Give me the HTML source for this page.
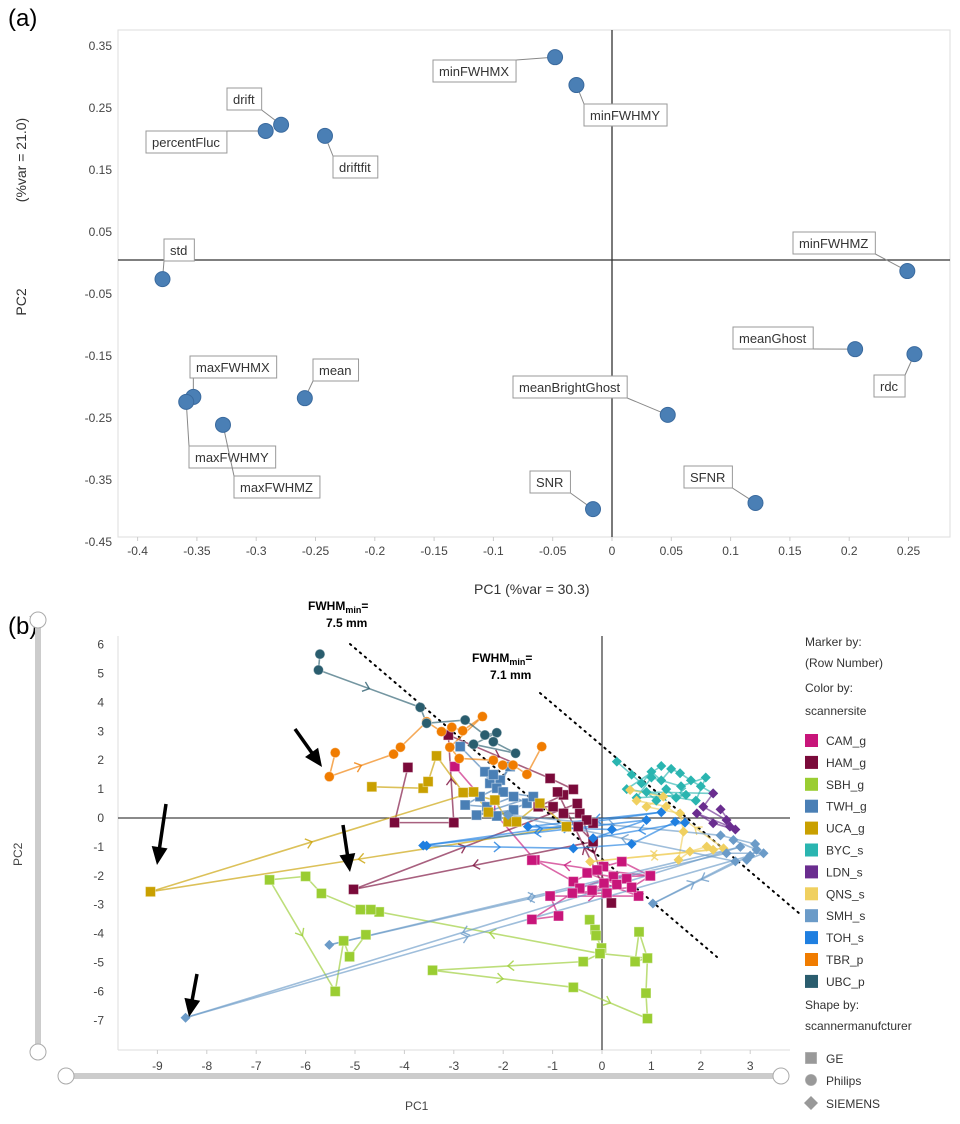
<!DOCTYPE html>
<html><head><meta charset="utf-8"><style>
body{margin:0;background:#fff;}
svg{display:block;font-family:"Liberation Sans",sans-serif;}
</style></head><body>
<svg id="fig" width="960" height="1124" viewBox="0 0 960 1124" xmlns="http://www.w3.org/2000/svg">
<text x="8" y="26" font-size="24">(a)</text>
<text x="8" y="634" font-size="24">(b)</text>
<g id="pa"></g>
<g id="pb"></g>
</svg>
<script>
const NS="http://www.w3.org/2000/svg";
function mk(tag,attrs,parent,txt){const e=document.createElementNS(NS,tag);for(const k in attrs)e.setAttribute(k,attrs[k]);if(txt!==undefined)e.textContent=txt;parent.appendChild(e);return e;}

// ---------- Panel (a) data ----------
const aLabels=["minFWHMX","minFWHMY","drift","percentFluc","driftfit","std","minFWHMZ","meanGhost","rdc","maxFWHMX","maxFWHMY","maxFWHMZ","mean","meanBrightGhost","SNR","SFNR"];
const aPC1=[-0.048,-0.030,-0.279,-0.292,-0.242,-0.379,0.249,0.205,0.255,-0.353,-0.359,-0.328,-0.259,0.047,-0.016,0.121];
const aPC2=[0.332,0.287,0.223,0.213,0.205,-0.026,-0.013,-0.139,-0.147,-0.216,-0.224,-0.261,-0.218,-0.245,-0.397,-0.387];
const aXTicks=[-0.4,-0.35,-0.3,-0.25,-0.2,-0.15,-0.1,-0.05,0,0.05,0.1,0.15,0.2,0.25];
const aYTicks=[0.35,0.25,0.15,0.05,-0.05,-0.15,-0.25,-0.35,-0.45];
// label boxes (layout, not data)
const aBoxes=[[433,60],[584,104],[227,88],[146,131],[333,156],[164,239],[793,232],[733,327],[874,375],[190,356],[189,446],[234,476],[313,359],[513,376],[530,471],[684,466]];

const ax=v=>612+v*1186, ay=v=>263-v*620;
const pa=document.getElementById('pa');
mk('rect',{x:118,y:30,width:832,height:507,fill:'none',stroke:'#ddd'},pa);
aXTicks.forEach(t=>{const e=mk('text',{x:ax(t),y:555,'font-size':12,'text-anchor':'middle',fill:'#444'},pa,String(t));

mk('line',{x1:ax(t),x2:ax(t),y1:537,y2:541,stroke:'#ccc'},pa);});
aYTicks.forEach(t=>{const e=mk('text',{x:112,y:ay(t)+4,'font-size':12,'text-anchor':'end',fill:'#444'},pa,t.toFixed(2).replace(/^(-?)0\./,'$10.'));
});
mk('line',{x1:ax(0),x2:ax(0),y1:30,y2:537,stroke:'#333','stroke-width':1.3},pa);
mk('line',{x1:118,x2:950,y1:ay(0)-3,y2:ay(0)-3,stroke:'#333','stroke-width':1.3},pa);
let t1=mk('text',{x:474,y:594,'font-size':14,fill:'#333'},pa,'PC1    (%var = 30.3)');

let t2=mk('text',{x:0,y:0,'font-size':14,fill:'#333','text-anchor':'middle',transform:'translate(26,302) rotate(-90)'},pa,'PC2');

let t2b=mk('text',{x:0,y:0,'font-size':14,fill:'#333','text-anchor':'middle',transform:'translate(26,160) rotate(-90)'},pa,'(%var = 21.0)');

aLabels.forEach((lab,i)=>{
 const px=ax(aPC1[i]),py=ay(aPC2[i]);const [bx,by]=aBoxes[i];const h=22;
 const ln=mk('line',{x1:px,y1:py,x2:px,y2:py,stroke:'#888'},pa);
 const r=mk('rect',{x:bx,y:by,width:10,height:h,fill:'#fff',stroke:'#999'},pa);
 
 const tx=mk('text',{x:bx+6,y:by+16,'font-size':13,fill:'#333'},pa,lab);
 
 const w=tx.getComputedTextLength()+13;r.setAttribute('width',w);
 const cx=Math.max(bx,Math.min(bx+w,px)),cy=Math.max(by,Math.min(by+h,py));
 ln.setAttribute('x2',cx);ln.setAttribute('y2',cy);
});
aLabels.forEach((lab,i)=>{const c=mk('circle',{cx:ax(aPC1[i]),cy:ay(aPC2[i]),r:7.5,fill:'#4a7fb5',stroke:'#3a6a9e'},pa);
});

// ---------- Panel (b) data ----------
const bSites=["CAM_g","HAM_g","SBH_g","TWH_g","UCA_g","BYC_s","LDN_s","QNS_s","SMH_s","TOH_s","TBR_p","UBC_p"];
const bColors=["#c8157a","#7a0a3a","#9acd32","#4a7fb5","#c9a000","#2ab5b0","#6a2d8f","#f0d060","#6b9bc8","#1f7fe0","#f07c00","#2a5d6e"];
const bShapes=["sq","sq","sq","sq","sq","di","di","di","di","di","ci","ci"];
const camX=[-2.98,-1.36,-0.58,0.03,0.40,0.97,0.23,-0.45,-1.42,-0.88,-1.05,0.74,0.04,-0.2,0.3,-0.3,0.5,0.1,-0.6,0.6,0.98,-0.1,-1.42];
const camY=[1.78,-1.45,-2.20,-1.68,-1.51,-2.0,-2.03,-2.43,-3.51,-3.39,-2.7,-2.7,-2.26,-2.5,-2.3,-1.9,-2.1,-2.6,-2.6,-2.4,-2.0,-1.8,-1.46];
const hamX=[-3.93,-4.20,-3.0,-3.11,-1.05,-0.58,-0.78,-1.29,-0.99,-0.78,-0.45,-0.18,-0.31,-0.48,-0.18,-5.03,-0.5,0.19,-0.9];
const hamY=[1.75,-0.16,-0.16,2.87,1.37,0.99,0.80,0.39,0.39,0.16,0.16,-0.18,-0.07,-0.3,-0.82,-2.47,0.5,-2.94,0.9];
const sbhX=[-0.25,-0.14,-0.12,-0.01,-0.04,-0.38,-3.43,-0.58,0.92,0.89,0.92,0.67,0.75,0.92,-0.04,-4.51,-4.68,-4.89,-5.68,-6.0,-6.73,-5.4,-5.23,-5.11,-4.78];
const sbhY=[-3.52,-3.86,-4.07,-4.5,-4.69,-4.97,-5.27,-5.86,-6.94,-6.06,-4.85,-4.97,-3.94,-4.85,-4.69,-3.25,-3.17,-3.17,-2.61,-2.02,-2.14,-6.0,-4.25,-4.8,-4.04];
const twhX=[-2.87,-2.37,-2.27,-2.06,-1.86,-2.13,-2.47,-2.77,-2.33,-1.79,-1.52,-2.13,-1.79,-2.54,-1.39,-2.0,-2.2];
const twhY=[2.47,1.60,1.20,1.31,1.78,1.03,0.74,0.45,0.39,0.74,0.51,0.07,0.28,0.10,0.74,0.9,1.5];
const ucaX=[-4.66,-3.62,-3.52,-3.35,-2.81,-2.17,-1.90,-1.73,-1.26,-0.72,-9.14,-2.6,-2.3];
const ucaY=[1.08,1.03,1.26,2.15,0.88,0.62,-0.13,-0.13,0.51,-0.30,-2.55,0.9,0.2];
const bycX=[0.30,0.6,0.8,1.0,1.2,1.4,1.58,1.8,2.0,2.25,0.9,1.1,1.3,1.5,1.7,0.7,1.0,1.6,2.1,1.9,0.5,1.2];
const bycY=[1.95,1.5,1.2,1.6,1.3,1.7,1.55,1.3,1.1,0.85,0.9,0.6,1.0,0.7,0.8,0.7,1.4,1.1,1.4,0.6,1.0,1.8];
const qnsX=[0.57,1.24,0.9,1.58,1.65,1.55,1.78,2.12,2.25,-0.24,2.46,1.3,0.7];
const qnsY=[0.97,0.74,0.39,0.16,-0.47,-1.45,-1.16,-0.99,-1.10,-1.51,-1.05,0.4,0.6];
const ldnX=[2.25,2.05,2.52,2.59,1.92,2.25,2.7,2.4];
const ldnY=[0.85,0.39,-0.07,-0.30,0.16,-0.18,-0.4,0.3];
const smhX=[2.66,3.13,2.93,3.27,2.52,-5.52,2.8,-8.43,3.0,1.03,2.7,-1.9,2.4,3.1];
const smhY=[-0.76,-1.10,-1.45,-1.22,-1.22,-4.39,-1.0,-6.91,-1.3,-2.96,-1.5,0.10,-0.6,-0.9];
const tohX=[-3.55,-0.58,0.60,1.48,1.68,-0.18,0.9,-3.62,1.2,-1.5,0.2];
const tohY=[-0.96,-1.05,-0.90,-0.13,-0.16,-0.70,-0.07,-0.95,0.2,-0.3,-0.4];
const tbrX=[-5.4,-5.52,-4.22,-4.08,-3.55,-3.25,-3.04,-2.82,-2.42,-3.08,-2.89,-2.2,-2.01,-1.8,-1.52,-1.22];
const tbrY=[2.26,1.43,2.21,2.45,3.33,2.99,3.14,3.02,3.51,2.45,2.06,2.0,1.83,1.83,1.51,2.47];
const ubcX=[-5.71,-5.74,-3.68,-3.55,-2.77,-2.37,-2.13,-2.6,-1.75,-2.2];
const ubcY=[5.67,5.12,3.83,3.28,3.39,2.87,2.95,2.55,2.24,2.64];
const bXs=[camX,hamX,sbhX,twhX,ucaX,bycX,ldnX,qnsX,smhX,tohX,tbrX,ubcX];
const bYs=[camY,hamY,sbhY,twhY,ucaY,bycY,ldnY,qnsY,smhY,tohY,tbrY,ubcY];
const bXTicks=[-9,-8,-7,-6,-5,-4,-3,-2,-1,0,1,2,3];
const bYTicks=[6,5,4,3,2,1,0,-1,-2,-3,-4,-5,-6,-7];

const bx=v=>602+v*49.4, by=v=>818-v*28.9;
const pb=document.getElementById('pb');
mk('line',{x1:118,x2:118,y1:636,y2:1050,stroke:'#ddd'},pb);
mk('line',{x1:118,x2:790,y1:1050,y2:1050,stroke:'#ddd'},pb);
bXTicks.forEach(t=>{const e=mk('text',{x:bx(t),y:1070,'font-size':12,'text-anchor':'middle',fill:'#444'},pb,String(t));

mk('line',{x1:bx(t),x2:bx(t),y1:1050,y2:1054,stroke:'#ccc'},pb);});
bYTicks.forEach(t=>{const e=mk('text',{x:104,y:by(t)+4,'font-size':12,'text-anchor':'end',fill:'#444'},pb,String(t));
});
mk('line',{x1:bx(0),x2:bx(0),y1:636,y2:1050,stroke:'#444','stroke-width':1.3},pb);
mk('line',{x1:118,x2:790,y1:by(0),y2:by(0),stroke:'#444','stroke-width':1.3},pb);
let t3=mk('text',{x:405,y:1110,'font-size':12,fill:'#444'},pb,'PC1');
let t4=mk('text',{x:0,y:0,'font-size':12,fill:'#444',transform:'translate(22,866) rotate(-90)'},pb,'PC2');
// sliders
mk('rect',{x:35,y:620,width:6,height:432,fill:'#ccc',rx:3},pb);
mk('rect',{x:65,y:1073,width:717,height:6,fill:'#ccc',rx:3},pb);
[[38,620],[38,1052],[66,1076],[781,1076]].forEach(([x,y])=>{const c=mk('circle',{cx:x,cy:y,r:8,fill:'#fff',stroke:'#aaa'},pb);
});
// dotted lines
mk('line',{x1:350,y1:644,x2:717,y2:957,stroke:'#000','stroke-width':2,'stroke-dasharray':'1.5 5','stroke-linecap':'round'},pb);
mk('line',{x1:540,y1:693,x2:800,y2:914,stroke:'#000','stroke-width':2,'stroke-dasharray':'1.5 5','stroke-linecap':'round'},pb);
function fw(x,y,val,name){const g=mk('g',{'font-weight':'bold','font-size':12},pb);
 const t=mk('text',{x:x,y:y},g);t.appendChild(document.createTextNode('FWHM'));const s=mk('tspan',{'font-size':9,dy:3},t,'min');mk('tspan',{dy:-3},t,'=');
 mk('text',{x:x+18,y:y+17},g,val);}
fw(308,610,'7.5 mm','fwhm-7.5-label');fw(472,662,'7.1 mm','fwhm-7.1-label');
// series lines
bSites.forEach((s,i)=>{const X=bXs[i],Y=bYs[i];
 for(let k=1;k<X.length;k++){const x1=bx(X[k-1]),y1=by(Y[k-1]),x2=bx(X[k]),y2=by(Y[k]);
  const l=mk('line',{x1,y1,x2,y2,stroke:bColors[i],'stroke-width':1.6,'stroke-opacity':0.65},pb);
  
  const d=Math.hypot(x2-x1,y2-y1);if(d>60){const mx=(x1+x2)/2,my=(y1+y2)/2,a=Math.atan2(y2-y1,x2-x1)*180/Math.PI;
   mk('path',{d:'M-6,-5 L0,0 L-6,5',fill:'none',stroke:bColors[i],'stroke-width':1.4,'stroke-opacity':0.8,transform:`translate(${mx},${my}) rotate(${a})`},pb);}
 }});
function marker(shape,x,y,col,parent,sz){let e;
 if(shape==='sq')e=mk('rect',{x:x-sz,y:y-sz,width:2*sz,height:2*sz,fill:col,stroke:'#fff','stroke-opacity':0.4},parent);
 else if(shape==='ci')e=mk('circle',{cx:x,cy:y,r:sz,fill:col,stroke:'#fff','stroke-opacity':0.4},parent);
 else e=mk('path',{d:`M${x},${y-sz-1}L${x+sz+1},${y}L${x},${y+sz+1}L${x-sz-1},${y}Z`,fill:col},parent);
 return e;}
bSites.forEach((s,i)=>{const X=bXs[i],Y=bYs[i];
 for(let k=0;k<X.length;k++){const m=marker(bShapes[i],bx(X[k]),by(Y[k]),bColors[i],pb,bShapes[i]==='di'?4:5);
  }});
// arrows
[[295,729,322,767],[166,804,157,865],[343,825,350,872],[197,974,189,1017]].forEach(([x1,y1,x2,y2])=>{
 const a=Math.atan2(y2-y1,x2-x1)*180/Math.PI;const g=mk('g',{transform:`translate(${x2},${y2}) rotate(${a})`},pb);
 
 const L=Math.hypot(x2-x1,y2-y1);
 mk('line',{x1:-L,y1:0,x2:-14,y2:0,stroke:'#000','stroke-width':3.5},g);
 mk('path',{d:'M0,0 L-18,-8 L-18,8 Z',fill:'#000'},g);});
// legend
const lg=mk('g',{'font-size':12,fill:'#333'},pb);
[['Marker by:',646],['(Row Number)',667],['Color by:',692],['scannersite',715],['Shape by:',1009],['scannermanufcturer',1030]].forEach(([t,y])=>mk('text',{x:805,y:y},lg,t));
bSites.forEach((s,i)=>{const y=740+i*21.9;const g=mk('g',{},lg);
 mk('rect',{x:805,y:y-6,width:13,height:13,fill:bColors[i]},g);mk('text',{x:826,y:y+5},g,s);});
[['GE','sq',1058],['Philips','ci',1080],['SIEMENS','di',1103]].forEach(([t,sh,y])=>{const g=mk('g',{},lg);
 marker(sh,811,y,'#999',g,6);mk('text',{x:826,y:y+5},g,t);});
</script>
</body></html>
